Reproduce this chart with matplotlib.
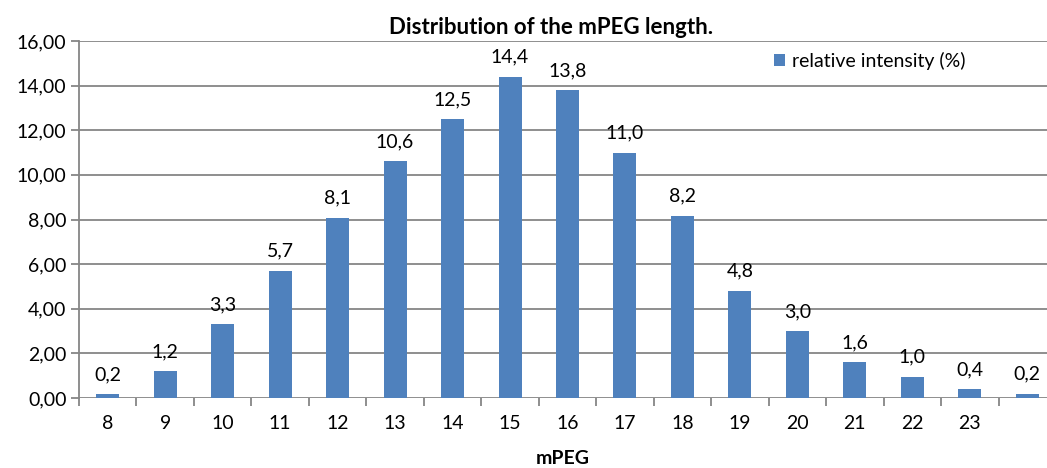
import matplotlib
matplotlib.use("Agg")
import matplotlib.pyplot as plt
import numpy as np

categories = ["8", "9", "10", "11", "12", "13", "14", "15", "16", "17", "18", "19", "20", "21", "22", "23", ""]
values = [0.16, 1.2, 3.3, 5.7, 8.07, 10.6, 12.5, 14.4, 13.8, 11.0, 8.16, 4.8, 3.0, 1.6, 0.96, 0.4, 0.18]
yticks = [0, 2, 4, 6, 8, 10, 12, 14, 16]

plt.rcParams['font.family'] = ['Lato', 'DejaVu Sans']

W, H = 1047, 468
fig = plt.figure(figsize=(W / 100, H / 100), dpi=100)
ax = fig.add_axes([79 / W, 1 - 398 / H, 977 / W, 357 / H])

x = np.arange(len(values))
bars = ax.bar(x, values, width=0.4, color="#4F81BD", label="relative intensity (%)", zorder=3)

FS = 14
for xi, v in zip(x, values):
    ax.annotate(f"{v:.1f}".replace(".", ","), (xi, v), xytext=(0, 8), textcoords="offset points",
                ha="center", va="bottom", fontsize=FS, color="black", zorder=4)

ax.set_xlim(-0.5, len(values) - 0.5)
ax.set_ylim(0, 16)
ax.set_yticks(yticks)
ax.set_yticklabels([f"{t:.2f}".replace(".", ",") for t in yticks], fontsize=FS)
ax.set_xticks(x)
ax.set_xticklabels(categories, fontsize=FS)
ax.set_xticks(np.arange(-0.5, len(values)), minor=True)
ax.tick_params(axis="x", which="major", length=0, pad=12)
ax.tick_params(axis="x", which="minor", length=6, width=1.3, color="#868686", direction="out")
ax.tick_params(axis="y", length=6, width=1.3, color="#868686", direction="out", pad=3)

ax.grid(axis="y", color="#868686", linewidth=1.3, zorder=0)
for s in ["top", "right", "bottom"]:
    ax.spines[s].set_visible(False)
ax.spines["left"].set_color("#868686")
ax.spines["left"].set_linewidth(1.3)

fig.text(551 / W, 1 - 28 / H, "Distribution of the mPEG length.", ha="center", va="center",
         fontsize=16, fontweight="bold")
fig.text(563 / W, 1 - 459 / H, "mPEG", ha="center", va="center", fontsize=14, fontweight="bold")

leg = ax.legend(loc="center left", bbox_to_anchor=(756 / W, 1 - 61 / H), bbox_transform=fig.transFigure,
                frameon=False, fontsize=FS, handlelength=0.6, handleheight=0.6, handletextpad=0.35)

fig.savefig("out.png", dpi=100)
